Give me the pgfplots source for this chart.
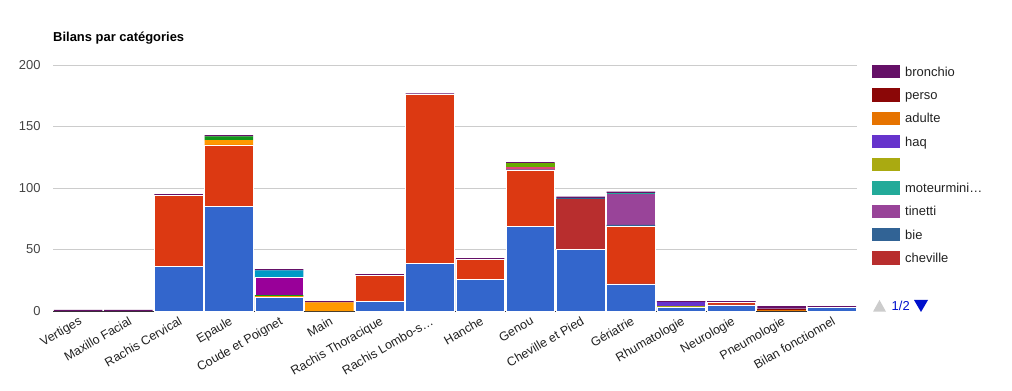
\documentclass[border=0pt]{standalone}
\usepackage{pgfplots}
\pgfplotsset{compat=1.18}
\usepackage{pgfplotstable}
\usepackage{fontspec}
\setmainfont{Liberation Sans}

\definecolor{c0}{HTML}{3366CC}
\definecolor{c1}{HTML}{DC3912}
\definecolor{c2}{HTML}{FF9900}
\definecolor{c3}{HTML}{109618}
\definecolor{c4}{HTML}{990099}
\definecolor{c5}{HTML}{0099C6}
\definecolor{c6}{HTML}{DD4477}
\definecolor{c7}{HTML}{66AA00}
\definecolor{c8}{HTML}{B82E2E}
\definecolor{c9}{HTML}{316395}
\definecolor{c10}{HTML}{994499}
\definecolor{c11}{HTML}{22AA99}
\definecolor{c12}{HTML}{AAAA11}
\definecolor{c13}{HTML}{6633CC}
\definecolor{c14}{HTML}{E67300}
\definecolor{c15}{HTML}{8B0707}
\definecolor{c16}{HTML}{651067}
\definecolor{gridgrey}{HTML}{CCCCCC}
\definecolor{labelgrey}{HTML}{444444}
\definecolor{textdark}{HTML}{222222}
\definecolor{baseline}{HTML}{333333}
\definecolor{navgrey}{HTML}{CCCCCC}
\definecolor{navblue}{HTML}{0011CC}

\pgfplotstableread{
x  c0  c1  c2 c3 c4 c5 c6 c7 c8 c9 c10 c11 c12 c13 c14 c15 c16
0  0   0   0  0  0  0  0  0  0  0  0   0   0   0   0   0   1
1  0   0   0  0  0  0  0  0  0  0  0   0   0   0   0   0   1
2  36  58  0  0  0  0  0  0  0  0  0   0   0   0   0   0   1
3  85  50  4  3  0  0  0  0  0  0  0   0   0   0   0   0   1
4  11  0   1  1  14 6  0  0  0  0  0   0   0   0   0   0   1
5  0   0   7  0  0  0  0  0  0  0  0   0   0   0   0   0   1
6  8   21  0  0  0  0  0  0  0  0  0   0   0   0   0   0   1
7  39  137 0  0  0  0  0  0  0  0  0   0   0   0   0   0   1
8  26  16  0  0  0  0  0  0  0  0  0   0   0   0   0   0   1
9  69  45  0  0  0  1  2  3  0  0  0   0   0   0   0   0   1
10 50  0   0  0  0  0  0  0  41 1  0   0   0   0   0   0   1
11 22  47  0  0  0  0  0  0  0  1  25  1   0   0   0   0   1
12 3   0   0  0  0  0  0  0  0  0  0   0   1   3   0   0   1
13 5   2   0  0  0  0  0  0  0  0  0   0   0   0   0   0   1
14 0   0   0  0  0  0  0  0  0  0  0   0   0   0   1   1   2
15 3   0   0  0  0  0  0  0  0  0  0   0   0   0   0   0   1
}\data

\begin{document}
\begin{tikzpicture}
\useasboundingbox[fill=white] (0,0) rectangle (1012bp,391bp);
\begin{axis}[
  at={(53bp,80bp)}, anchor=south west,
  scale only axis, width=804bp, height=246bp,
  xmin=-0.5, xmax=15.5, ymin=0, ymax=200,
  ytick={0,50,100,150,200},
  xtick={0,...,15},
  xticklabels={Vertiges,Maxillo Facial,Rachis Cervical,Epaule,Coude et Poignet,Main,Rachis Thoracique,Rachis Lombo-s…,Hanche,Genou,Cheville et Pied,Gériatrie,Rhumatologie,Neurologie,Pneumologie,Bilan fonctionnel},
  /pgf/number format/assume math mode=true,
  ymajorgrids, grid style={color=gridgrey, line width=0.8bp},
  axis line style={draw=none},
  major tick length=0pt,
  tick style={draw=none},
  yticklabel style={font=\fontsize{13}{15}\selectfont, text=labelgrey, anchor=east, xshift=-9bp},
  xticklabel style={font=\fontsize{12.5}{14}\selectfont, text=textdark, rotate=30, anchor=north east, inner sep=1bp, xshift=-1.5bp, yshift=-3bp},
  ybar stacked, bar width=48.5bp,
  clip=false,
]
\addplot[fill=c0, draw=white, line width=0.6bp] table[x=x,y=c0]{\data};
\addplot[fill=c1, draw=white, line width=0.6bp] table[x=x,y=c1]{\data};
\addplot[fill=c2, draw=none] table[x=x,y=c2]{\data};
\addplot[fill=c3, draw=none] table[x=x,y=c3]{\data};
\addplot[fill=c4, draw=white, line width=0.6bp] table[x=x,y=c4]{\data};
\addplot[fill=c5, draw=none] table[x=x,y=c5]{\data};
\addplot[fill=c6, draw=none] table[x=x,y=c6]{\data};
\addplot[fill=c7, draw=none] table[x=x,y=c7]{\data};
\addplot[fill=c8, draw=none] table[x=x,y=c8]{\data};
\addplot[fill=c9, draw=none] table[x=x,y=c9]{\data};
\addplot[fill=c10, draw=none] table[x=x,y=c10]{\data};
\addplot[fill=c11, draw=none] table[x=x,y=c11]{\data};
\addplot[fill=c12, draw=none] table[x=x,y=c12]{\data};
\addplot[fill=c13, draw=none] table[x=x,y=c13]{\data};
\addplot[fill=c14, draw=none] table[x=x,y=c14]{\data};
\addplot[fill=c15, draw=none] table[x=x,y=c15]{\data};
\addplot[fill=c16, draw=none] table[x=x,y=c16]{\data};
\draw[color=baseline, line width=1bp] (rel axis cs:0,0) -- (rel axis cs:1,0);
\end{axis}
% title
\node[anchor=base west, inner sep=0, font=\bfseries\fontsize{13}{15}\selectfont, text=black] at (53bp,349bp) {Bilans par catégories};
% legend
\foreach \c/\n [count=\i from 0] in {c16/bronchio,c15/perso,c14/adulte,c13/haq,c12/{},c11/moteurmini…,c10/tinetti,c9/bie,c8/cheville}{
  \pgfmathsetmacro{\yt}{391-65-23.3*\i}
  \pgfmathsetmacro{\yb}{391-78.3-23.3*\i}
  \pgfmathsetmacro{\ym}{391-76.2-23.3*\i}
  \fill[\c] (872bp,\yb bp) rectangle (900bp,\yt bp);
  \node[anchor=base west, inner sep=0, font=\fontsize{13}{15}\selectfont, text=textdark] at (905bp,\ym bp) {\n};
}
% pager
\fill[navgrey] (873bp,79.3bp) -- (886bp,79.3bp) -- (879.5bp,91bp) -- cycle;
\node[anchor=base west, inner sep=0, font=\fontsize{13}{15}\selectfont, text=navblue] at (891.5bp,80.5bp) {1/2};
\fill[navblue] (914bp,91bp) -- (928bp,91bp) -- (921bp,79bp) -- cycle;
\end{tikzpicture}
\end{document}
